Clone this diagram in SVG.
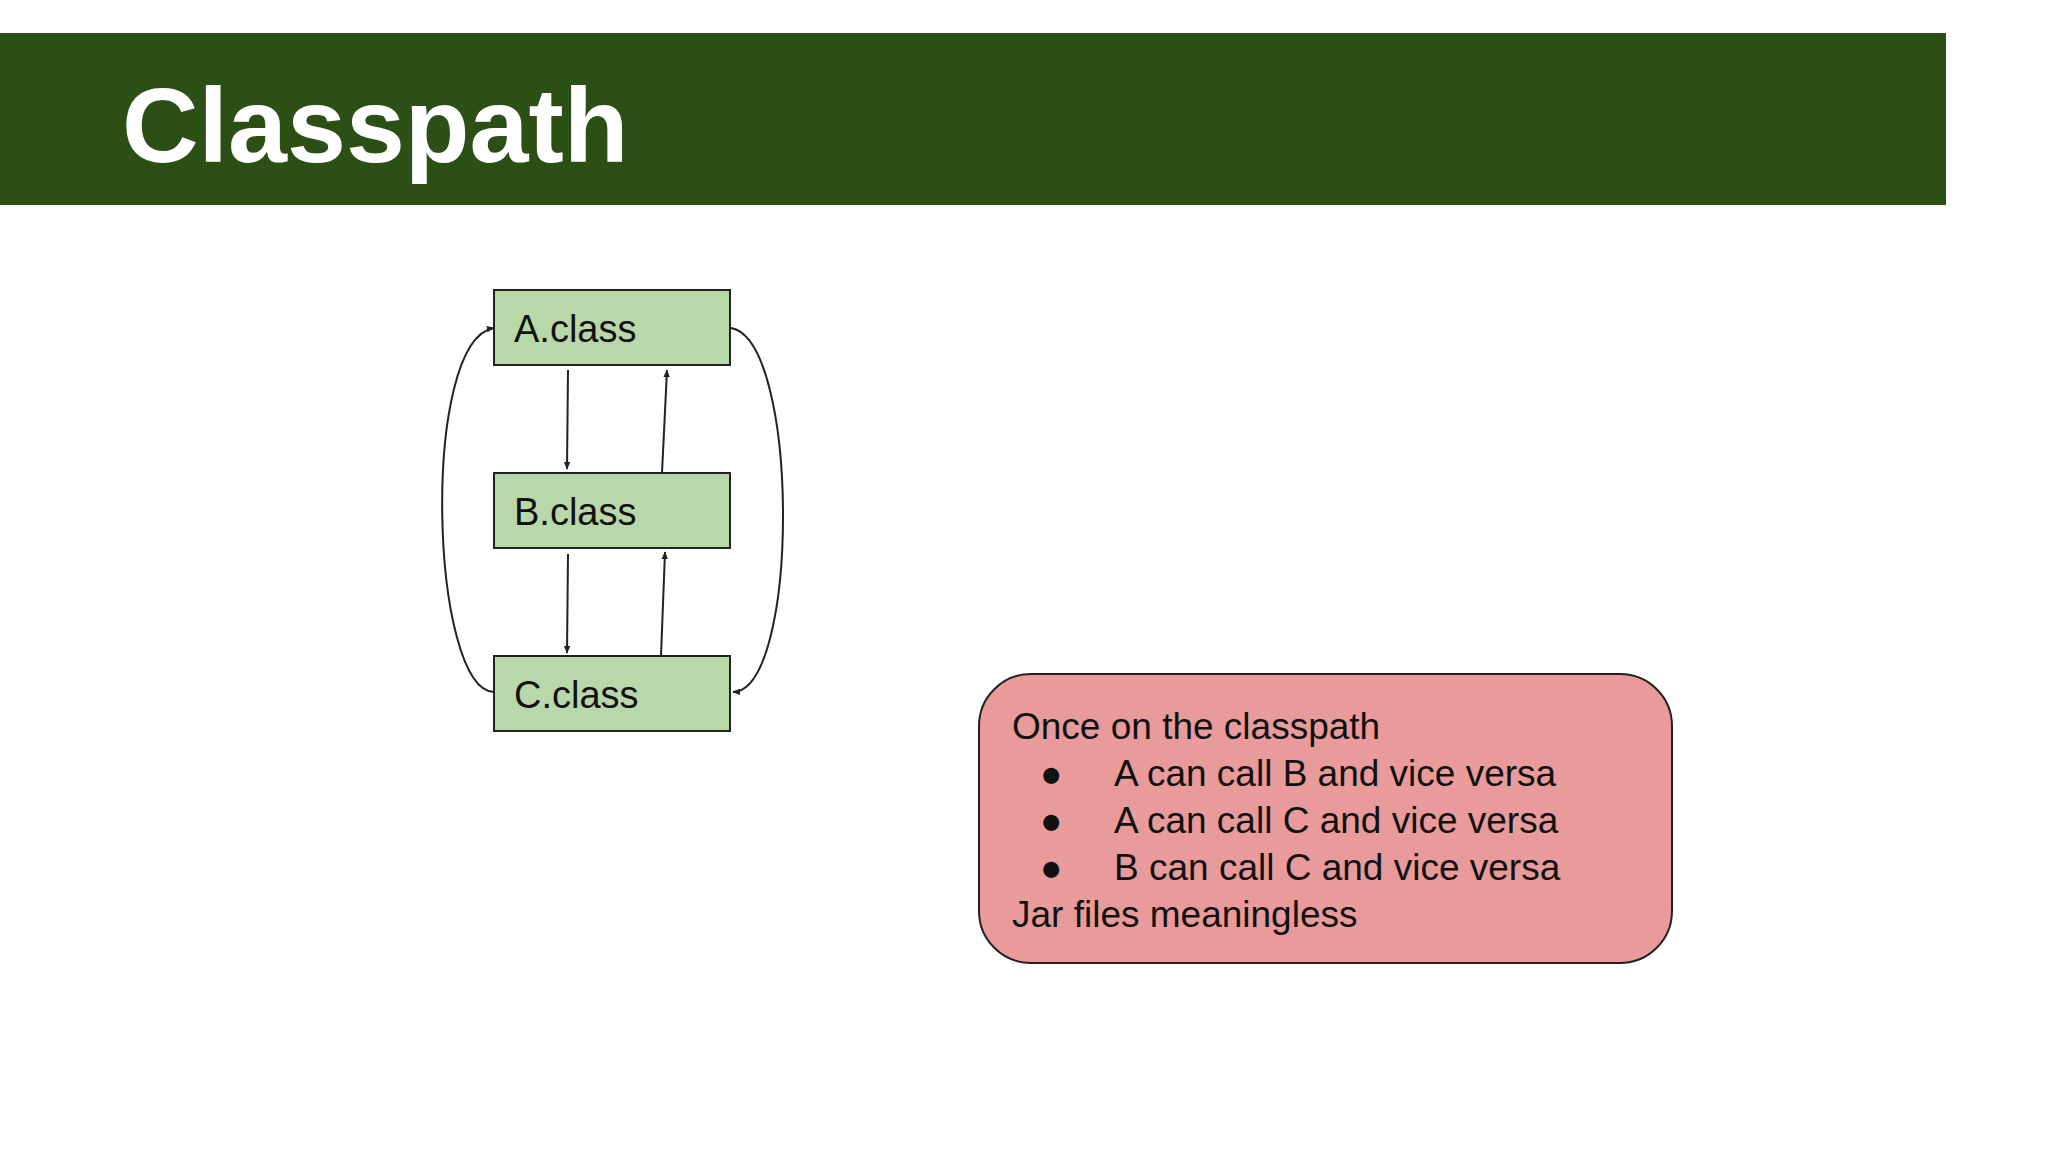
<svg xmlns="http://www.w3.org/2000/svg" width="2048" height="1152" viewBox="0 0 2048 1152">
<style>
.box{fill:#b9d8a9;stroke:#222;stroke-width:2}
.lbl{font-family:"Liberation Sans",Arial,sans-serif;font-size:38px;fill:#111}
.c{fill:none;stroke:#222;stroke-width:2;marker-end:url(#ah)}
.t{font-family:"Liberation Sans",Arial,sans-serif;font-size:37px;fill:#111}
</style>
<defs><marker id="ah" viewBox="0 0 10 10" refX="9" refY="5" markerWidth="8" markerHeight="8" orient="auto" markerUnits="userSpaceOnUse"><path d="M0,1 L10,5 L0,9 z" fill="#222"/></marker></defs>
<rect width="2048" height="1152" fill="#fff"/>
<g id="banner"><rect x="0" y="33" width="1946" height="172" fill="#2c4f16"/>
<text x="122" y="162" font-family="Liberation Sans,Arial,sans-serif" font-weight="bold" font-size="106" fill="#fff">Classpath</text></g>
<g id="A"><rect class="box" x="494" y="290" width="236" height="75"/><text class="lbl" x="514" y="342">A.class</text></g>
<g id="B"><rect class="box" x="494" y="473" width="236" height="75"/><text class="lbl" x="514" y="525">B.class</text></g>
<g id="C"><rect class="box" x="494" y="656" width="236" height="75"/><text class="lbl" x="514" y="708">C.class</text></g>
<g id="connectors">
<path class="c" d="M568,370 L567,469"/>
<path class="c" d="M662,473 L667,370"/>
<path class="c" d="M568,554 L567,653"/>
<path class="c" d="M661,656 L665,552"/>
<path class="c" d="M494,692 C430,690 420,340 494,328"/>
<path class="c" d="M731,328 C800,340 800,690 733,692"/>
</g>
<g id="note"><rect x="979" y="674" width="693" height="289" rx="52" fill="#e99a9a" stroke="#222" stroke-width="2"/>
<text class="t" x="1012" y="739">Once on the classpath</text>
<text class="t" x="1040" y="786">●</text><text class="t" x="1114" y="786">A can call B and vice versa</text>
<text class="t" x="1040" y="833">●</text><text class="t" x="1114" y="833">A can call C and vice versa</text>
<text class="t" x="1040" y="880">●</text><text class="t" x="1114" y="880">B can call C and vice versa</text>
<text class="t" x="1012" y="927">Jar files meaningless</text></g>
</svg>
